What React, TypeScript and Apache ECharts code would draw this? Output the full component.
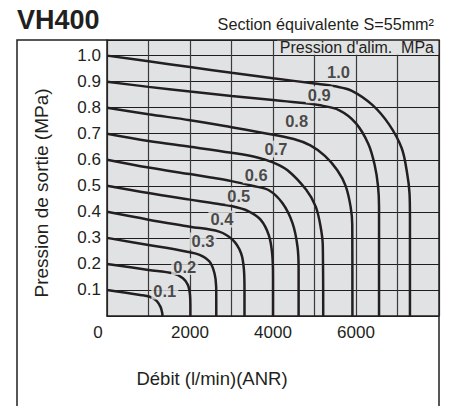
import React, { useEffect, useRef } from 'react';
import * as echarts from 'echarts';

// Supply pressure of each curve (MPa)
const supplyPressures = ['0.1', '0.2', '0.3', '0.4', '0.5', '0.6', '0.7', '0.8', '0.9', '1.0'];

// Flow (l/min ANR) vs outlet pressure (MPa)
const curve01 = [[0, 0.1], [800, 0.081], [1030, 0.074], [1190, 0.059], [1290, 0.035], [1330, 0.012], [1336, 0]];
const curve02 = [[0, 0.2], [1000, 0.177], [1590, 0.164], [1830, 0.145], [1950, 0.119], [2000, 0.08], [2009, 0.04], [2009, 0]];
const curve03 = [[0, 0.3], [1000, 0.273], [1900, 0.248], [2230, 0.235], [2470, 0.209], [2590, 0.164], [2630, 0.113], [2633, 0.06], [2633, 0]];
const curve04 = [[0, 0.4], [1000, 0.37], [2000, 0.343], [2700, 0.324], [3030, 0.292], [3230, 0.241], [3300, 0.177], [3313, 0.1], [3313, 0]];
const curve05 = [[0, 0.5], [1000, 0.472], [2000, 0.447], [2500, 0.435], [3000, 0.422], [3400, 0.403], [3700, 0.37], [3900, 0.31], [3980, 0.24], [4000, 0.15], [4000, 0]];
const curve06 = [[0, 0.6], [1000, 0.57], [2000, 0.545], [2500, 0.532], [3000, 0.518], [3500, 0.5], [3900, 0.483], [4230, 0.433], [4470, 0.357], [4590, 0.267], [4617, 0.18], [4617, 0]];
const curve07 = [[0, 0.7], [1000, 0.672], [2000, 0.65], [3000, 0.627], [3600, 0.61], [4000, 0.59], [4350, 0.56], [4800, 0.485], [5030, 0.42], [5150, 0.34], [5200, 0.27], [5210, 0]];
const curve08 = [[0, 0.8], [1000, 0.775], [2000, 0.752], [3000, 0.725], [3700, 0.705], [4500, 0.68], [4900, 0.655], [5250, 0.615], [5550, 0.56], [5750, 0.5], [5870, 0.42], [5910, 0.35], [5914, 0]];
const curve09 = [[0, 0.9], [1000, 0.88], [2000, 0.862], [3000, 0.845], [4000, 0.83], [4600, 0.82], [5100, 0.81], [5600, 0.79], [6000, 0.74], [6300, 0.66], [6450, 0.58], [6530, 0.5], [6555, 0.42], [6555, 0]];
const curve10 = [[0, 1.0], [1000, 0.978], [2000, 0.956], [3000, 0.934], [4000, 0.913], [5000, 0.893], [5500, 0.882], [5900, 0.865], [6400, 0.81], [6800, 0.735], [7100, 0.645], [7230, 0.55], [7290, 0.47], [7300, 0.38], [7300, 0]];
const curves = [curve01, curve02, curve03, curve04, curve05, curve06, curve07, curve08, curve09, curve10];

// Where each curve's pressure label sits (data coordinates)
const labelAnchors = [[1393, 0.096], [1873, 0.19], [2312, 0.288], [2768, 0.372], [3176, 0.4615], [3594, 0.542], [4074, 0.641], [4569, 0.747], [5114, 0.85], [5578, 0.937]];

// Tick labels
const xTickLabels = [2000, 4000, 6000];
const yTickLabels = ['0.1', '0.2', '0.3', '0.4', '0.5', '0.6', '0.7', '0.8', '0.9', '1.0'];
const originLabel = '0';

const title = 'VH400';
const subtitle = 'Section équivalente S=55mm²';
const legendTitle = "Pression d'alim.  MPa";
const xName = 'Débit (l/min)(ANR)';
const yName = 'Pression de sortie (MPa)';

const FONT = '"Liberation Sans", Arial, Helvetica, sans-serif';
const BG = '#e1e2e4';
const INK = '#231f20';

export default function App() {
  const ref = useRef<HTMLDivElement>(null);
  useEffect(() => {
    if (!ref.current) return;
    const chart = echarts.init(ref.current, null, { renderer: 'svg' });
    const option: any = {
      animation: false,
      grid: { left: 107, right: 10, top: 40, bottom: 90, show: true, backgroundColor: BG, borderWidth: 0 },
      xAxis: {
        type: 'value', min: 0, max: 8000, interval: 1000,
        axisLine: { show: true, onZero: false, lineStyle: { color: INK, width: 1.5 } },
        axisTick: { show: false },
        splitLine: { show: true, lineStyle: { color: '#3a3a3a', width: 1.2 } },
        axisLabel: {
          color: INK, fontSize: 17, fontFamily: FONT, margin: 8,
          formatter: (v: number) => (xTickLabels.indexOf(v) >= 0 ? String(v) : ''),
        },
      },
      yAxis: {
        type: 'value', min: 0, max: 1.06, interval: 0.1,
        axisLine: { show: true, onZero: false, lineStyle: { color: INK, width: 1.5 } },
        axisTick: { show: false },
        splitLine: { show: true, lineStyle: { color: '#1e1e1e', width: 1.2 } },
        axisLabel: {
          color: INK, fontSize: 17, fontFamily: FONT, margin: 6,
          formatter: (v: number) => {
            const r = Math.round(v * 10) / 10;
            if (Math.abs(v - r) > 1e-6) return '';
            const s = r.toFixed(1);
            return yTickLabels.indexOf(s) >= 0 ? s : '';
          },
        },
      },
      series: [
        ...curves.map((c, i) => ({
          type: 'line', name: supplyPressures[i], data: c, showSymbol: false, symbol: 'none',
          smooth: 0.35, lineStyle: { color: INK, width: 2.5 }, z: 3, silent: true,
        })),
        {
          type: 'scatter', symbolSize: 0.1, itemStyle: { color: 'transparent' }, z: 5, silent: true,
          data: labelAnchors.map((p, i) => [p[0], p[1], supplyPressures[i]]),
          label: {
            show: true, position: 'inside', formatter: (p: any) => p.value[2],
            fontFamily: FONT, fontWeight: 'bold', fontSize: 16.5, color: INK,
            backgroundColor: BG, padding: [0, 2],
          },
        },
      ],
      graphic: [
        { type: 'polyline', z: 50, shape: { points: [[17, 406], [17, 40], [439, 40], [439, 406]] }, style: { stroke: INK, lineWidth: 1.5, fill: null } },
        { type: 'text', z: 50, x: 17, y: 20, style: { text: title, fontFamily: FONT, fontWeight: 'bold', fontSize: 27, fill: INK, align: 'left', verticalAlign: 'middle' } },
        { type: 'text', z: 50, x: 434, y: 24, style: { text: subtitle, fontFamily: FONT, fontSize: 16.2, fill: INK, align: 'right', verticalAlign: 'middle' } },
        { type: 'rect', z: 50, shape: { x: 277, y: 40.8, width: 161.3, height: 14 }, style: { fill: BG } },
        { type: 'text', z: 51, x: 434, y: 47.5, style: { text: legendTitle, fontFamily: FONT, fontSize: 16, fill: INK, align: 'right', verticalAlign: 'middle' } },
        { type: 'text', z: 50, x: 98, y: 332, style: { text: originLabel, fontFamily: FONT, fontSize: 17, fill: INK, align: 'center', verticalAlign: 'middle' } },
        { type: 'text', z: 50, x: 212, y: 378, style: { text: xName, fontFamily: FONT, fontSize: 18.5, fill: INK, align: 'center', verticalAlign: 'middle' } },
        { type: 'text', z: 50, x: 41, y: 193, rotation: Math.PI / 2, style: { text: yName, fontFamily: FONT, fontSize: 19, fill: INK, align: 'center', verticalAlign: 'middle' } },
      ],
    };
    chart.setOption(option);
    return () => chart.dispose();
  }, []);
  return <div ref={ref} style={{ position: 'fixed', left: 0, top: 0, width: 449, height: 406, background: '#fff' }} />;
}
